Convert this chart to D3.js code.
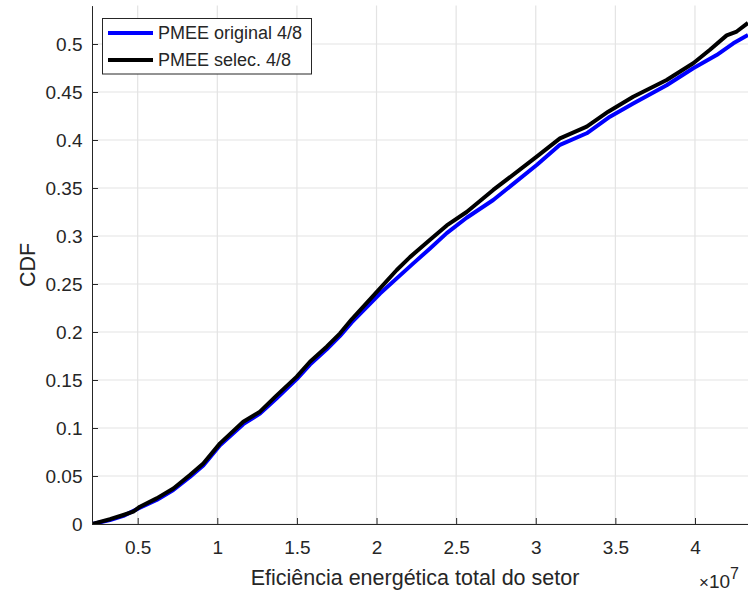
<!DOCTYPE html>
<html>
<head>
<meta charset="utf-8">
<script src="https://cdn.jsdelivr.net/npm/d3@7"></script>
<style>
body { margin: 0; background: #fff; }
text { font-family: "Liberation Sans", Arial, Helvetica, sans-serif; fill: #262626; }
</style>
</head>
<body>
<svg class="chart" width="748" height="595"></svg>
<script>
// values in units of 1e7
let x_original = [0.213, 0.326, 0.410, 0.514, 0.619, 0.724, 0.828, 0.912, 1.017, 1.163, 1.268, 1.373,
    1.499, 1.582, 1.687, 1.771, 1.844, 2.022, 2.231, 2.336, 2.441, 2.566, 2.733, 3.006, 3.152, 3.320,
    3.466, 3.612, 3.822, 3.989, 4.136, 4.241, 4.333]
let y_original = [0, 0.004, 0.0085, 0.017, 0.025, 0.0355, 0.049, 0.061, 0.082, 0.104, 0.115, 0.131,
    0.151, 0.166, 0.182, 0.196, 0.210, 0.240, 0.2715, 0.287, 0.303, 0.319, 0.3375, 0.374, 0.395, 0.407,
    0.4243, 0.438, 0.457, 0.4747, 0.4885, 0.5007, 0.5095]

let x_selec = [0.213, 0.326, 0.410, 0.472, 0.514, 0.619, 0.724, 0.828, 0.912, 1.017, 1.163, 1.268,
    1.373, 1.499, 1.582, 1.687, 1.771, 1.844, 2.022, 2.127, 2.210, 2.336, 2.441, 2.566, 2.733, 3.006,
    3.152, 3.320, 3.455, 3.612, 3.822, 3.989, 4.094, 4.199, 4.262, 4.333]
let y_selec = [0, 0.005, 0.0094, 0.0128, 0.018, 0.0267, 0.037, 0.051, 0.063, 0.084, 0.1066, 0.117,
    0.134, 0.1535, 0.169, 0.1847, 0.1986, 0.2132, 0.2455, 0.2646, 0.278, 0.296, 0.311, 0.325, 0.348,
    0.3826, 0.4017, 0.414, 0.4295, 0.445, 0.4625, 0.48, 0.494, 0.509, 0.513, 0.522]

let x_ticks = [0.5, 1, 1.5, 2, 2.5, 3, 3.5, 4]
let y_ticks = [0, 0.05, 0.1, 0.15, 0.2, 0.25, 0.3, 0.35, 0.4, 0.45, 0.5]

let series_names = ["PMEE original 4/8", "PMEE selec. 4/8"]
let series_colors = ["#0000ff", "#000000"]

let plot_left = 92, plot_right = 748, plot_top = 5.6, plot_bottom = 524

let x = d3.scaleLinear().domain([0.213, 4.333]).range([plot_left, plot_right])
let y = d3.scaleLinear().domain([0, 0.54]).range([plot_bottom, plot_top])

let svg = d3.select(".chart")

// grid
svg.append("g").selectAll("line")
    .data(x_ticks)
    .enter().append("line")
    .attr("x1", d => x(d)).attr("x2", d => x(d))
    .attr("y1", plot_top).attr("y2", plot_bottom)
    .attr("stroke", "#e3e3e3")
    .attr("stroke-width", 1.2)
svg.append("g").selectAll("line")
    .data(y_ticks)
    .enter().append("line")
    .attr("x1", plot_left).attr("x2", plot_right)
    .attr("y1", d => y(d)).attr("y2", d => y(d))
    .attr("stroke", "#e3e3e3")
    .attr("stroke-width", 1.2)

svg.append("clipPath").attr("id", "clip")
    .append("rect")
    .attr("x", plot_left).attr("y", plot_top)
    .attr("width", plot_right - plot_left).attr("height", plot_bottom - plot_top)

let line = d3.line()
    .x(d => x(d[0]))
    .y(d => y(d[1]))

let series = [
    d3.zip(x_original, y_original),
    d3.zip(x_selec, y_selec)
]

svg.append("g").attr("clip-path", "url(#clip)")
    .selectAll("path")
    .data(series)
    .enter().append("path")
    .attr("d", line)
    .attr("fill", "none")
    .attr("stroke", (d, i) => series_colors[i])
    .attr("stroke-width", 4)
    .attr("stroke-linejoin", "round")

// axes
let x_axis = svg.append("g")
    .attr("transform", `translate(0,${plot_bottom})`)
    .call(d3.axisBottom(x).tickValues(x_ticks).tickFormat(d => String(d))
        .tickSizeInner(-6).tickSizeOuter(0).tickPadding(16.5))
let y_axis = svg.append("g")
    .attr("transform", `translate(${plot_left},0)`)
    .call(d3.axisLeft(y).tickValues(y_ticks).tickFormat(d => String(d))
        .tickSizeInner(-6).tickSizeOuter(0).tickPadding(9.5))

;[x_axis, y_axis].forEach(a => {
    a.select(".domain").attr("stroke", "#262626").attr("stroke-width", 1)
    a.selectAll(".tick line").attr("stroke", "#262626")
    a.selectAll(".tick text").attr("font-size", 19).attr("fill", "#262626")
        .style("font-family", "'Liberation Sans', Arial, sans-serif")
})

// labels
svg.append("text")
    .attr("x", (plot_left + plot_right) / 2 - 5)
    .attr("y", 585)
    .attr("text-anchor", "middle")
    .attr("font-size", 21.5)
    .text("Eficiência energética total do setor")

svg.append("text")
    .attr("transform", "translate(35,265) rotate(-90)")
    .attr("text-anchor", "middle")
    .attr("font-size", 21.5)
    .text("CDF")

let expo = svg.append("text")
    .attr("x", 699)
    .attr("y", 588)
    .attr("font-size", 19)
expo.append("tspan").text("\u00d7").attr("font-size", 17)
expo.append("tspan").text("10")
expo.append("tspan").text("7").attr("dy", -9).attr("font-size", 16)

// legend
let legend = svg.append("g")
legend.append("rect")
    .attr("x", 102.5).attr("y", 18.5)
    .attr("width", 209).attr("height", 55.5)
    .attr("fill", "#fff")
    .attr("stroke", "#262626")
    .attr("stroke-width", 1)

let items = legend.selectAll("g.item")
    .data(series_names)
    .enter().append("g")
    .classed("item", true)
    .attr("transform", (d, i) => `translate(0,${33 + i * 27})`)
items.append("line")
    .attr("x1", 108).attr("x2", 153)
    .attr("stroke", (d, i) => series_colors[i])
    .attr("stroke-width", 4)
items.append("text")
    .attr("x", 158)
    .attr("dy", "0.35em")
    .attr("font-size", 18)
    .attr("fill", "#000")
    .text(d => d)
</script>
</body>
</html>
